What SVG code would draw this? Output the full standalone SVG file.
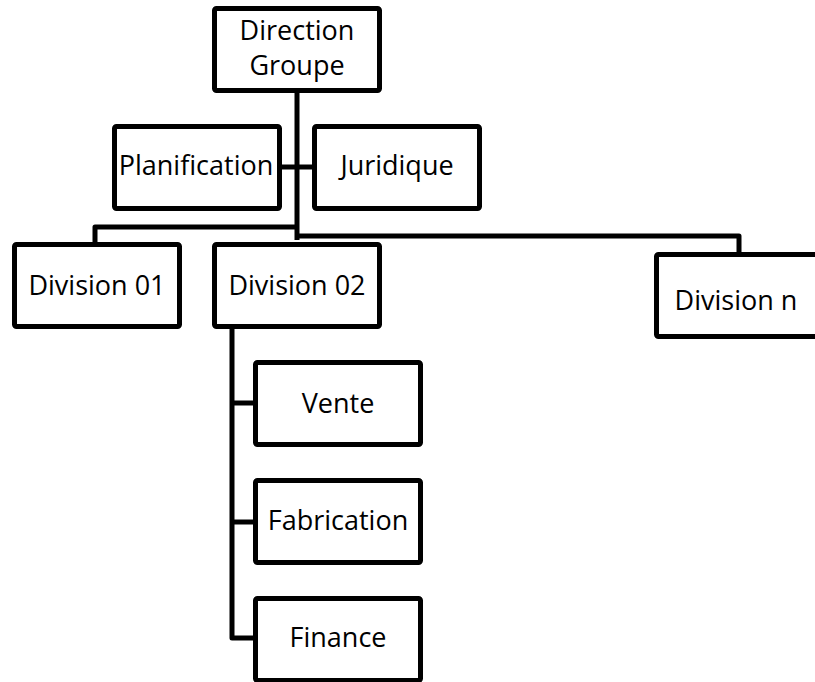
<svg xmlns="http://www.w3.org/2000/svg" width="815" height="682" viewBox="0 0 815 682">
  <style>
    .box { fill: #ffffff; stroke: #000000; stroke-width: 5; stroke-linejoin: round; }
    .link { fill: none; stroke: #000000; stroke-width: 5; stroke-linejoin: round; }
    .label { font-family: "Open Sans", "Noto Sans", sans-serif; font-size: 27px; fill: #000000; text-anchor: middle; }
  </style>
  <rect width="815" height="682" fill="#ffffff"/>

  <!-- connectors -->
  <g id="connectors">
    <path class="link" d="M297,90 V240"/>
    <path class="link" d="M282,167 H312"/>
    <path class="link" d="M297,227 H95 V244"/>
    <path class="link" d="M297,236 H739 V254"/>
    <path class="link" d="M232,327 V638 H255"/>
    <path class="link" d="M232,403 H255"/>
    <path class="link" d="M232,522 H255"/>
  </g>

  <!-- nodes -->
  <g id="direction-groupe">
    <rect class="box" x="214.5" y="8.5" width="165" height="82" rx="2"/>
    <text class="label" x="297" y="40">Direction</text>
    <text class="label" x="297" y="75">Groupe</text>
  </g>
  <g id="planification">
    <rect class="box" x="114.5" y="126.5" width="165" height="82" rx="2"/>
    <text class="label" x="196" y="175">Planification</text>
  </g>
  <g id="juridique">
    <rect class="box" x="314.5" y="126.5" width="165" height="82" rx="2"/>
    <text class="label" x="397" y="175">Juridique</text>
  </g>
  <g id="division-01">
    <rect class="box" x="14.5" y="244.5" width="165" height="82" rx="2"/>
    <text class="label" x="97" y="295">Division 01</text>
  </g>
  <g id="division-02">
    <rect class="box" x="214.5" y="244.5" width="165" height="82" rx="2"/>
    <text class="label" x="297" y="295">Division 02</text>
  </g>
  <g id="division-n">
    <rect class="box" x="656.5" y="254.5" width="165" height="82" rx="2"/>
    <text class="label" x="736" y="310">Division n</text>
  </g>
  <g id="vente">
    <rect class="box" x="255.5" y="362.5" width="165" height="82" rx="2"/>
    <text class="label" x="338" y="413">Vente</text>
  </g>
  <g id="fabrication">
    <rect class="box" x="255.5" y="480.5" width="165" height="82" rx="2"/>
    <text class="label" x="338" y="530">Fabrication</text>
  </g>
  <g id="finance">
    <rect class="box" x="255.5" y="598.5" width="165" height="82" rx="2"/>
    <text class="label" x="338" y="647">Finance</text>
  </g>
</svg>
